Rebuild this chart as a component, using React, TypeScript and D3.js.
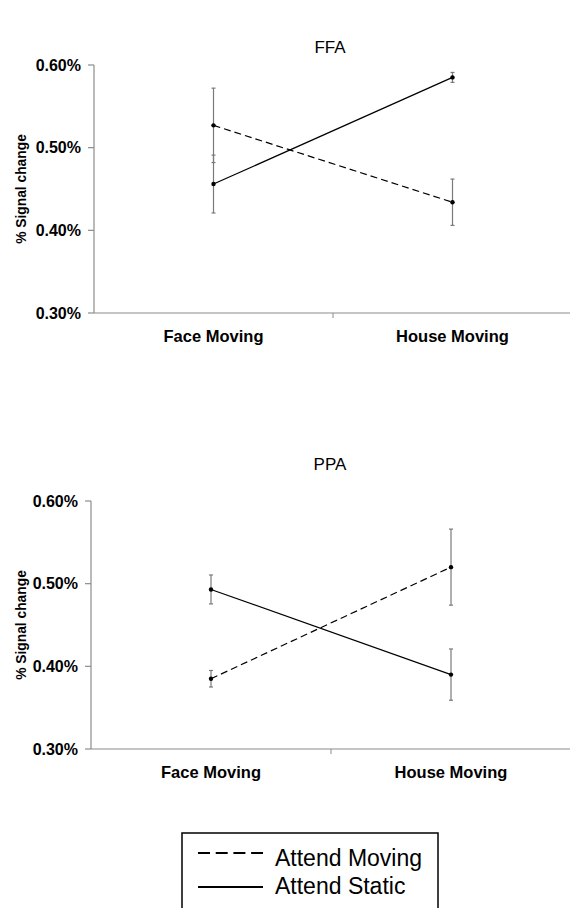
import * as d3 from 'd3'

const categories = ['Face Moving', 'House Moving']
const yTicks = [0.3, 0.4, 0.5, 0.6]

// FFA
const ffaMoving = [0.527, 0.434]
const ffaMovingErr = [0.045, 0.028]
const ffaStatic = [0.456, 0.585]
const ffaStaticErr = [0.035, 0.006]

// PPA
const ppaMoving = [0.385, 0.52]
const ppaMovingErr = [0.01, 0.046]
const ppaStatic = [0.493, 0.39]
const ppaStaticErr = [0.0175, 0.031]

const FONT = 'Arial, "Liberation Sans", Helvetica, sans-serif'
const AXIS_COLOR = '#8c8c8c'
const ERR_COLOR = '#7a7a7a'

type Series = { values: number[]; errs: number[]; dashed: boolean }

type PanelProps = {
  title: string
  left: number
  right: number
  top: number
  bottom: number
  titleY: number
  labelY: number
  series: Series[]
}

function Panel({ title, left, right, top, bottom, titleY, labelY, series }: PanelProps) {
  const x = d3.scaleBand<string>().domain(categories).range([left, right]).padding(0)
  const y = d3.scaleLinear().domain([0.3, 0.6]).range([bottom, top])
  const cx = (c: string) => (x(c) ?? 0) + x.bandwidth() / 2
  const line = d3
    .line<number>()
    .x((_, i) => cx(categories[i]))
    .y((v) => y(v))

  return (
    <g>
      <text x={330} y={titleY} textAnchor="middle" fontSize={17} fontFamily={FONT} fill="#000">
        {title}
      </text>

      {/* y axis */}
      <line x1={left} x2={left} y1={top} y2={bottom} stroke={AXIS_COLOR} strokeWidth={1.2} />
      {yTicks.map((t) => (
        <g key={t}>
          <line x1={left - 6} x2={left} y1={y(t)} y2={y(t)} stroke={AXIS_COLOR} strokeWidth={1.2} />
          <text
            x={left - 13}
            y={y(t) + 5.5}
            textAnchor="end"
            fontSize={16}
            fontWeight="bold"
            fontFamily={FONT}
            fill="#000"
          >
            {d3.format('.2f')(t)}%
          </text>
        </g>
      ))}
      <text
        transform={`translate(26,${(top + bottom) / 2}) rotate(-90)`}
        textAnchor="middle"
        fontSize={13.8}
        fontWeight="bold"
        fontFamily={FONT}
        fill="#000"
      >
        % Signal change
      </text>

      {/* x axis */}
      <line x1={left} x2={right} y1={bottom} y2={bottom} stroke={AXIS_COLOR} strokeWidth={1.2} />
      {categories.slice(1).map((c) => (
        <line key={c} x1={x(c)} x2={x(c)} y1={bottom} y2={bottom + 5} stroke={AXIS_COLOR} strokeWidth={1} />
      ))}
      {categories.map((c) => (
        <text
          key={c}
          x={cx(c)}
          y={labelY}
          textAnchor="middle"
          fontSize={16.5}
          fontWeight="bold"
          fontFamily={FONT}
          fill="#000"
        >
          {c}
        </text>
      ))}

      {/* error bars */}
      {series.map((s, si) =>
        s.values.map((v, i) => {
          const px = cx(categories[i])
          const y1 = y(v + s.errs[i])
          const y2 = y(v - s.errs[i])
          return (
            <g key={`e${si}-${i}`} stroke={ERR_COLOR} strokeWidth={1.2}>
              <line x1={px} x2={px} y1={y1} y2={y2} />
              <line x1={px - 2} x2={px + 2} y1={y1} y2={y1} />
              <line x1={px - 2} x2={px + 2} y1={y2} y2={y2} />
            </g>
          )
        })
      )}

      {/* lines */}
      {series.map((s, si) => (
        <g key={`l${si}`}>
          <path
            d={line(s.values) ?? ''}
            fill="none"
            stroke="#000"
            strokeWidth={1.2}
            strokeDasharray={s.dashed ? '7,4' : undefined}
          />
          {s.values.map((v, i) => (
            <circle key={i} cx={cx(categories[i])} cy={y(v)} r={2.2} fill="#000" />
          ))}
        </g>
      ))}
    </g>
  )
}

export default function App() {
  return (
    <svg
      width={570}
      height={908}
      style={{ position: 'absolute', left: 0, top: 0, background: '#fff' }}
    >
      <rect width={570} height={908} fill="#fff" />
      <Panel
        title="FFA"
        left={94}
        right={572}
        top={65}
        bottom={313}
        titleY={53}
        labelY={342}
        series={[
          { values: ffaMoving, errs: ffaMovingErr, dashed: true },
          { values: ffaStatic, errs: ffaStaticErr, dashed: false },
        ]}
      />
      <Panel
        title="PPA"
        left={91}
        right={571}
        top={501}
        bottom={749}
        titleY={470}
        labelY={778}
        series={[
          { values: ppaMoving, errs: ppaMovingErr, dashed: true },
          { values: ppaStatic, errs: ppaStaticErr, dashed: false },
        ]}
      />

      {/* legend */}
      <rect x={182} y={833} width={256} height={90} fill="none" stroke="#000" strokeWidth={1.5} />
      <line x1={198} x2={263} y1={853} y2={853} stroke="#000" strokeWidth={2} strokeDasharray="12,5.7" />
      <line x1={198} x2={263} y1={887} y2={887} stroke="#000" strokeWidth={2} />
      <text x={275} y={866} fontSize={23} fontFamily={FONT} fill="#000">
        Attend Moving
      </text>
      <text x={275} y={894} fontSize={23} fontFamily={FONT} fill="#000">
        Attend Static
      </text>
    </svg>
  )
}
